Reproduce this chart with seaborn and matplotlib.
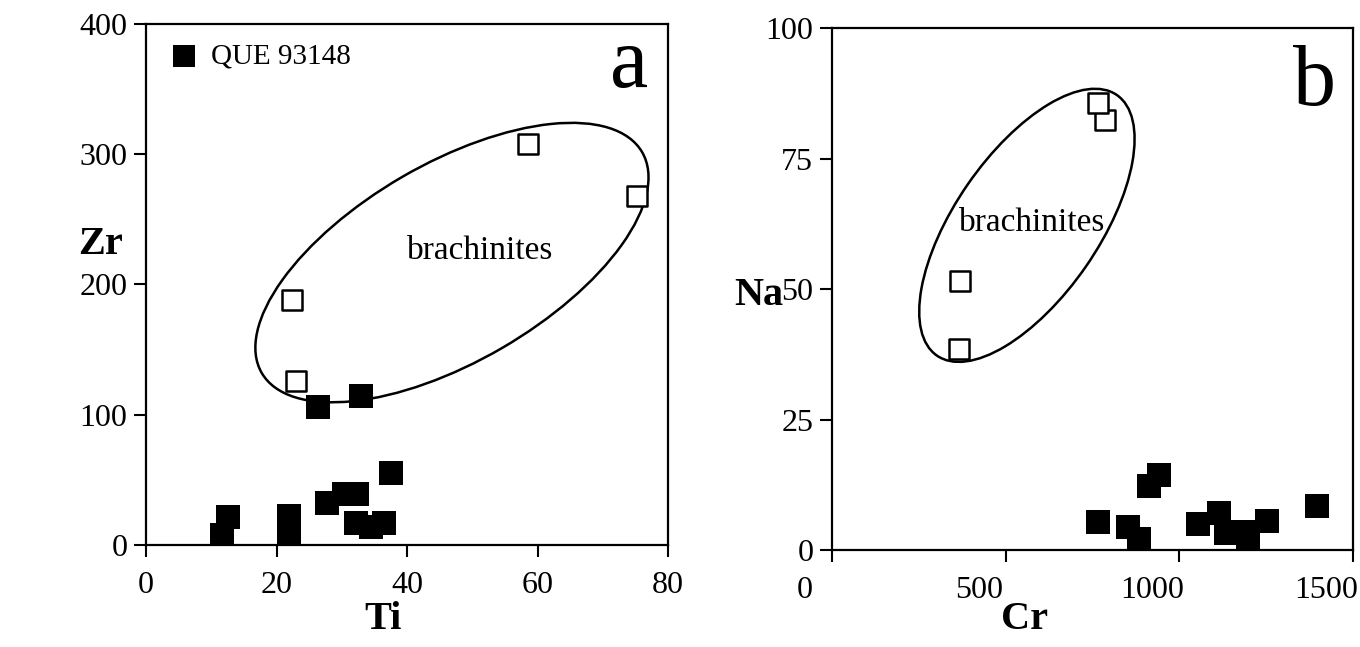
import matplotlib
matplotlib.use("Agg")
import matplotlib.pyplot as plt
from matplotlib.patches import Ellipse
from matplotlib.transforms import ScaledTranslation
import seaborn as sns
import pandas as pd

# ---------------- data ----------------
# Panel a: Ti vs Zr
que_ti = [26.4, 33.0, 37.5, 30.4, 32.3, 27.8, 32.2, 34.5, 36.5, 12.6, 11.6, 21.9, 21.9]
que_zr = [105.7, 114.7, 55.3, 39.2, 39.2, 32.0, 17.1, 13.6, 16.6, 21.3, 7.7, 22.5, 10.2]
brach_ti = [58.5, 75.3, 22.3, 23.0]
brach_zr = [308, 268, 188, 126]

# Panel b: Cr vs Na
que_cr = [766, 851, 885, 912, 942, 1054, 1113, 1133, 1183, 1198, 1252, 1396]
que_na = [5.3, 4.4, 2.1, 12.2, 14.4, 5.0, 7.1, 3.2, 3.5, 2.4, 5.6, 8.5]
brach_cr = [786, 765, 368, 366]
brach_na = [82.4, 85.7, 51.6, 38.5]

ti_ticks = [0, 20, 40, 60, 80]
zr_ticks = [0, 100, 200, 300, 400]
cr_ticks = [0, 500, 1000, 1500]
na_ticks = [0, 25, 50, 75, 100]

legend_label = "QUE 93148"
group_label = "brachinites"

# ellipse outlines (axes-fraction centre, width, height, angle)
ell_a = dict(center=(0.586, 0.542), width=0.843, height=0.380, angle=30.2)
ell_b = dict(center=(0.374, 0.622), width=0.607, height=0.276, angle=55.3)

# ---------------- style ----------------
sns.set_style("ticks")
plt.rcParams["font.family"] = ["Liberation Serif", "DejaVu Serif"]
plt.rcParams["text.color"] = "black"
plt.rcParams["axes.labelcolor"] = "black"
plt.rcParams["xtick.color"] = "black"
plt.rcParams["ytick.color"] = "black"

fig = plt.figure(figsize=(13.6, 6.47), dpi=100)
ax_a = fig.add_axes([0.1074, 0.1577, 0.3838, 0.8053])
ax_b = fig.add_axes([0.6118, 0.1499, 0.3831, 0.8068])

TICK_FS = 23
LAB_FS = 29
FILLED_S = 275
OPEN_S = 196


def style_axes(ax, xlim, ylim, xticks, yticks):
    ax.set_xlim(*xlim)
    ax.set_ylim(*ylim)
    ax.set_xticks(xticks)
    ax.set_yticks(yticks)
    ax.set_xticklabels([str(t) for t in xticks])
    ax.set_yticklabels([str(t) for t in yticks])
    for sp in ax.spines.values():
        sp.set_visible(True)
        sp.set_linewidth(1.6)
        sp.set_color("black")
    ax.tick_params(direction="out", length=8.5, width=1.5, labelsize=TICK_FS,
                   colors="black")
    ax.tick_params(axis="x", pad=10)
    ax.tick_params(axis="y", pad=5)
    ax.set_facecolor("white")


# ---------------- panel a ----------------
df_qa = pd.DataFrame({"Ti": que_ti, "Zr": que_zr})
df_ba = pd.DataFrame({"Ti": brach_ti, "Zr": brach_zr})

ax_a.add_patch(Ellipse(ell_a["center"], ell_a["width"], ell_a["height"],
                       angle=ell_a["angle"], transform=ax_a.transAxes,
                       fill=False, edgecolor="black", linewidth=1.8, zorder=2))
sns.scatterplot(data=df_ba, x="Ti", y="Zr", ax=ax_a, marker="s", s=OPEN_S,
                color="white", edgecolor="black", linewidth=1.8, zorder=3,
                legend=False)
sns.scatterplot(data=df_qa, x="Ti", y="Zr", ax=ax_a, marker="s", s=FILLED_S,
                color="black", edgecolor="black", linewidth=0, zorder=4,
                label=legend_label)
style_axes(ax_a, (0, 80), (0, 400), ti_ticks, zr_ticks)

ax_a.set_xlabel("Ti", fontsize=LAB_FS, fontweight="bold", va="center")
ax_a.set_ylabel("Zr", fontsize=LAB_FS, fontweight="bold", rotation=0,
                va="center", ha="center")
ax_a.xaxis.set_label_coords(0.454, -0.144)
ax_a.yaxis.set_label_coords(-0.088, 0.576)

ax_a.text(0.640, 0.549, group_label, transform=ax_a.transAxes, fontsize=24,
          ha="center", va="baseline")
ax_a.text(0.962, 0.879, "a", transform=ax_a.transAxes, fontsize=62,
          ha="right", va="baseline")

leg = ax_a.legend(loc="center left", bbox_to_anchor=(0.044, 0.937),
                  frameon=False, fontsize=21, handlelength=1.0,
                  handletextpad=0.45, borderpad=0, borderaxespad=0,
                  markerscale=0.95)

# ---------------- panel b ----------------
df_qb = pd.DataFrame({"Cr": que_cr, "Na": que_na})
df_bb = pd.DataFrame({"Cr": brach_cr, "Na": brach_na})

ax_b.add_patch(Ellipse(ell_b["center"], ell_b["width"], ell_b["height"],
                       angle=ell_b["angle"], transform=ax_b.transAxes,
                       fill=False, edgecolor="black", linewidth=1.8, zorder=2))
sns.scatterplot(data=df_bb, x="Cr", y="Na", ax=ax_b, marker="s", s=OPEN_S,
                color="white", edgecolor="black", linewidth=1.8, zorder=3,
                legend=False)
sns.scatterplot(data=df_qb, x="Cr", y="Na", ax=ax_b, marker="s", s=FILLED_S,
                color="black", edgecolor="black", linewidth=0, zorder=4,
                legend=False)
style_axes(ax_b, (0, 1500), (0, 100), cr_ticks, na_ticks)

# x tick labels of panel b sit slightly left of their ticks in the original
shift = ScaledTranslation(-0.27, 0, fig.dpi_scale_trans)
for lab in ax_b.get_xticklabels():
    lab.set_transform(lab.get_transform() + shift)

ax_b.set_xlabel("Cr", fontsize=LAB_FS, fontweight="bold", va="center")
ax_b.set_ylabel("Na", fontsize=LAB_FS, fontweight="bold", rotation=0,
                va="center", ha="center")
ax_b.xaxis.set_label_coords(0.370, -0.134)
ax_b.yaxis.set_label_coords(-0.14, 0.487)

ax_b.text(0.384, 0.611, group_label, transform=ax_b.transAxes, fontsize=24,
          ha="center", va="baseline")
ax_b.text(0.967, 0.852, "b", transform=ax_b.transAxes, fontsize=62,
          ha="right", va="baseline")

fig.savefig("out.png", dpi=100, facecolor="white")
